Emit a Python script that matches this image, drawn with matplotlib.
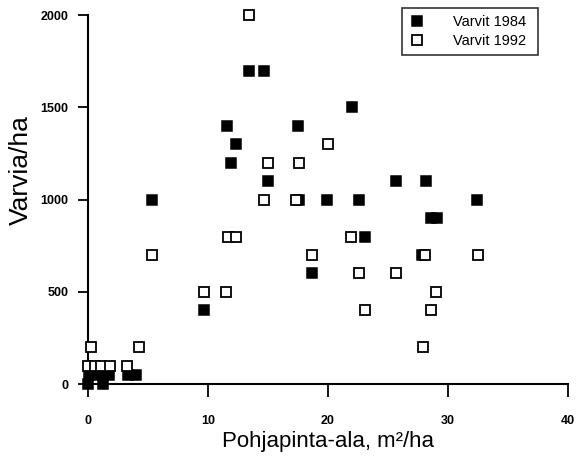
import matplotlib.pyplot as plt

plt.rcParams['font.family'] = ['Liberation Sans', 'DejaVu Sans']

# Varvit 1984 (filled)
x84 = [0.0, 1.2, 0.1, 0.6, 1.2, 1.7, 3.3, 4.0, 5.3, 9.7, 11.6, 11.9, 12.3,
       13.4, 14.7, 15.0, 17.5, 17.6, 18.7, 19.9, 22.0, 22.6, 23.1, 25.7,
       27.8, 28.2, 28.6, 29.1, 32.4]
y84 = [0, 0, 50, 50, 50, 50, 50, 50, 1000, 400, 1400, 1200, 1300,
       1700, 1700, 1100, 1400, 1000, 600, 1000, 1500, 1000, 800, 1100,
       700, 1100, 900, 900, 1000]

# Varvit 1992 (open)
x92 = [0.2, 0.0, 0.6, 1.1, 1.8, 3.2, 4.2, 5.3, 9.7, 11.5, 11.7, 12.3, 13.4,
       14.7, 15.0, 17.3, 17.6, 18.7, 20.0, 21.9, 22.6, 23.1, 25.7, 27.9,
       28.1, 28.6, 29.0, 32.5]
y92 = [200, 100, 100, 100, 100, 100, 200, 700, 500, 500, 800, 800, 2000,
       1000, 1200, 1000, 1200, 700, 1300, 800, 600, 400, 600, 200,
       700, 400, 500, 700]

fig = plt.figure(figsize=(5.76, 4.59), dpi=100)
ax = fig.add_axes([0.153, 0.163, 0.833, 0.804])

ax.plot(x84, y84, 's', ms=7.3, color='black', mec='black', mew=1.1,
        label='Varvit 1984', clip_on=False)
ax.plot(x92, y92, 's', ms=7.3, mfc='white', mec='black', mew=1.3,
        label='Varvit 1992', clip_on=False)

ax.set_xlim(0, 40)
ax.set_ylim(0, 2000)
ax.set_xticks([0, 10, 20, 30, 40])
ax.set_yticks([0, 500, 1000, 1500, 2000])

for s in ['top', 'right']:
    ax.spines[s].set_visible(False)
for s in ['left', 'bottom']:
    ax.spines[s].set_linewidth(1.5)
    ax.spines[s].set_zorder(0)

ax.tick_params(axis='x', length=9, width=1.3, pad=13, labelsize=9)
ax.tick_params(axis='y', length=7, width=1.3, pad=7, labelsize=9)
for lab in ax.get_xticklabels() + ax.get_yticklabels():
    lab.set_fontweight('bold')

ax.set_xlabel('Pohjapinta-ala, m²/ha', fontsize=16, labelpad=3)
ax.set_ylabel('Varvia/ha', fontsize=19, labelpad=10)
ax.yaxis.set_label_coords(-0.115, 0.58)

leg = ax.legend(loc='upper left', bbox_to_anchor=(0.654, 0.8, 0.2835, 0.219),
                mode='expand', fontsize=10.5,
                frameon=True, fancybox=False, edgecolor='black',
                handlelength=1.0, handletextpad=2.0, borderpad=0.5,
                labelspacing=0.3, borderaxespad=0)
leg.get_frame().set_linewidth(1.2)

fig.savefig('out.png', dpi=100)
